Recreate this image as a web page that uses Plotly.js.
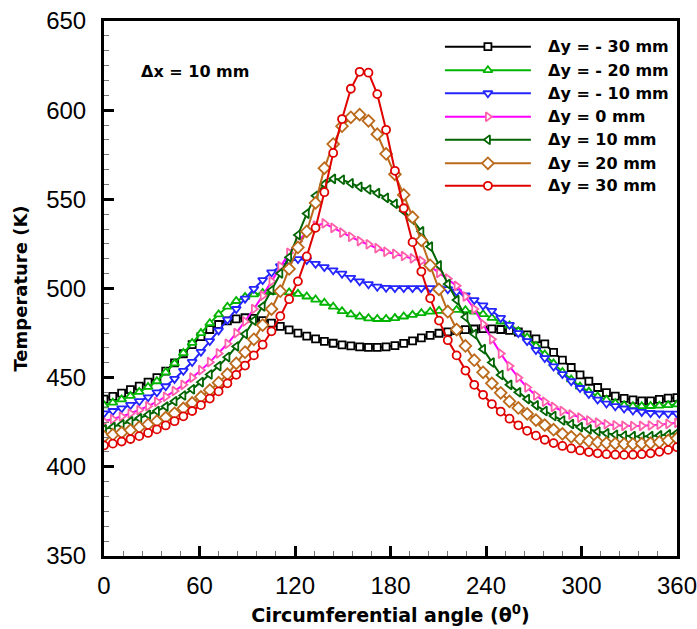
<!DOCTYPE html>
<html>
<head>
<meta charset="utf-8">
<script src="https://cdn.plot.ly/plotly-3.0.1.min.js"></script>
<style>html,body{margin:0;padding:0;background:#fff;}#chart{width:697px;height:629px;}</style>
</head>
<body>
<div id="chart"></div>
<script>
var theta = [0, 5.54, 11.08, 16.62, 22.15, 27.69, 33.23, 38.77, 44.31, 49.85, 55.38, 60.92, 66.46, 72.00, 77.54, 83.08, 88.62, 94.15, 99.69, 105.23, 110.77, 116.31, 121.85, 127.38, 132.92, 138.46, 144.00, 149.54, 155.08, 160.62, 166.15, 171.69, 177.23, 182.77, 188.31, 193.85, 199.38, 204.92, 210.46, 216.00, 221.54, 227.08, 232.62, 238.15, 243.69, 249.23, 254.77, 260.31, 265.85, 271.38, 276.92, 282.46, 288.00, 293.54, 299.08, 304.62, 310.15, 315.69, 321.23, 326.77, 332.31, 337.85, 343.38, 348.92, 354.46, 360];

var seriesNames = ["\u0394y = - 30 mm", "\u0394y = - 20 mm", "\u0394y = - 10 mm", "\u0394y = 0 mm", "\u0394y = 10 mm", "\u0394y = 20 mm", "\u0394y = 30 mm"];

var tM30 = [438, 439.5, 441.3, 443.3, 445.3, 447.5, 450, 453.7, 458.3, 463.4, 468.5, 473, 477, 479.8, 481.8, 483, 483.6, 483.3, 482, 480.6, 478.8, 476.8, 475, 473.3, 471.8, 470.4, 469.3, 468.4, 467.8, 467.3, 467, 467, 467.3, 468, 469.2, 470.6, 472.3, 473.7, 474.9, 475.7, 476.4, 476.9, 477.3, 477.5, 477.4, 477, 476.5, 475.6, 474, 471.7, 469, 464.2, 459.8, 455.7, 451.6, 448, 444.5, 441.6, 439.6, 438.4, 437.6, 437, 437, 437.8, 438.5, 438.8];

var tM20 = [434.5, 436, 437.8, 439.8, 442, 444.8, 448, 453, 458, 463.8, 469.5, 475, 480.5, 485.5, 489.8, 493, 495.3, 496.7, 497.5, 498, 498.2, 497.8, 497, 495.5, 493.8, 492, 489.8, 487.3, 485.5, 484.2, 483.3, 482.9, 482.9, 483.4, 484.3, 485.2, 486.2, 487, 487.5, 487.9, 488, 487.8, 487, 485.6, 483.5, 481.5, 479.2, 476, 472.5, 467.8, 463, 458, 453.2, 449, 445, 442.2, 439.5, 437.6, 435.7, 434.6, 434, 434, 434.1, 434.3, 434.6, 435];

var tM10 = [430, 431.3, 432.8, 434.7, 436.8, 439, 441.8, 445.2, 449.3, 453.8, 458.8, 464.5, 470.5, 476.5, 482.5, 488.5, 494.3, 499.8, 504.7, 509, 512.5, 515.2, 516.5, 516, 513.8, 512, 510.2, 508.3, 506, 504, 502.4, 501, 500.4, 500.2, 500.2, 500.2, 500.2, 500.2, 500.1, 499.6, 498.2, 496.2, 493.5, 490.5, 487.5, 483.5, 479.6, 475, 470.5, 465.5, 461, 456.3, 452, 448, 444.2, 440.8, 437.7, 435.5, 434, 432.7, 431.6, 430.8, 430.2, 429.9, 429.8, 429.8];

var tP0 = [425.5, 426.7, 428.2, 429.9, 431.8, 434, 436.5, 439.3, 442.5, 446, 450, 454.2, 458.7, 463.6, 469, 475, 481.5, 488.5, 496, 504, 512.5, 520, 526.5, 531.5, 535.3, 536.5, 534, 531.3, 529, 526.6, 524.8, 522.6, 520.6, 519.4, 518.2, 516.9, 515.5, 512.5, 508.8, 505.5, 501.5, 495.5, 488.5, 480, 471.5, 463.5, 456.5, 450, 444.5, 440, 436.5, 433.6, 431.3, 429.3, 427.6, 426, 424.8, 423.9, 423.3, 423, 422.9, 423, 423.2, 423.6, 424.1, 424.7];

var tP10 = [421, 422.3, 423.8, 425.5, 427.2, 429.2, 431.3, 433.8, 436.8, 440, 443.5, 447.5, 451.8, 456.5, 461.5, 467.5, 474.5, 482, 490, 499, 508.5, 517.5, 530, 542, 552, 558.5, 561.5, 561, 559, 557, 555.5, 553.5, 550.8, 547.5, 543.5, 538.5, 532, 523.5, 513, 502.5, 493.5, 484, 474.5, 466, 458.5, 451.5, 446, 441.8, 438, 434.5, 431.3, 428.5, 426, 424, 422.3, 421, 419.8, 418.8, 418, 417.5, 417.2, 417, 417.2, 417.6, 418.2, 419];

var tP20 = [417, 418, 419.2, 420.6, 422.2, 423.8, 425.6, 427.6, 430, 432.8, 435.8, 439.2, 443, 447.2, 452, 458, 464.3, 471.5, 479.5, 488.5, 498.5, 511, 523, 532, 548, 567.5, 581, 591, 596, 597.5, 594, 586.5, 575.5, 564, 552.5, 540, 527, 513, 499.5, 487, 477, 467.8, 459.8, 453, 446.8, 441.5, 436.7, 433, 429.7, 426.2, 423.4, 420.8, 418.5, 416.8, 415.5, 414.5, 413.8, 413.3, 413, 412.8, 412.8, 413, 413.3, 413.9, 414.8, 416];

var tP30 = [412, 413, 414.2, 415.6, 417.2, 419, 421, 423.2, 425.6, 428.3, 431.3, 434.6, 438.3, 442.3, 446.8, 451.6, 456.8, 462.5, 468.5, 476, 484.5, 494, 504, 518, 534, 554, 576, 595, 612, 621.5, 621, 609, 589, 566, 545, 526, 509.5, 494.5, 482, 471, 462.5, 454, 446, 440.4, 435.2, 431, 427, 423.3, 420.2, 417.5, 415.2, 413.3, 411.7, 410.3, 409.2, 408.3, 407.6, 407.1, 406.8, 406.7, 406.8, 407.1, 407.6, 408.4, 409.5, 411];

var xTickVals = [0, 60, 120, 180, 240, 300, 360];
var yTickVals = [350, 400, 450, 500, 550, 600, 650];

var allSeries = [tM30, tM20, tM10, tP0, tP10, tP20, tP30];
var lineColors = ["#000000", "#00b400", "#2424ff", "#ff00ff", "#006400", "#bb6a1c", "#e00000"];
var markerColors = ["#000000", "#00b400", "#2424ff", "#ff60a8", "#006400", "#bb6a1c", "#e00000"];
var symbols = ["square", "triangle-up", "triangle-down", "triangle-right", "triangle-left", "diamond", "circle"];
var msize = [7, 8, 8, 8, 8, 9, 8];

var traces = [];
for (var i = 0; i < allSeries.length; i++) {
  traces.push({
    type: "scatter", mode: "lines+markers",
    x: theta, y: allSeries[i], name: seriesNames[i], showlegend: false,
    line: {color: lineColors[i], width: 2},
    marker: {symbol: symbols[i], size: msize[i], color: "#ffffff", line: {color: markerColors[i], width: 1.8}},
    hoverinfo: "skip"
  });
}

// custom legend (overlay axes in plot-area fractions)
var legX = [0.595, 0.670, 0.745];
var legY = [0.952, 0.908, 0.865, 0.821, 0.778, 0.734, 0.692];
var annotations = [];
for (var j = 0; j < allSeries.length; j++) {
  traces.push({
    type: "scatter", mode: "lines+markers", xaxis: "x2", yaxis: "y2",
    x: legX, y: [legY[j], legY[j], legY[j]], showlegend: false, hoverinfo: "skip",
    line: {color: lineColors[j], width: 2},
    marker: {symbol: symbols[j], size: msize[j], color: "#ffffff", opacity: [0, 1, 0], line: {color: markerColors[j], width: 1.8}}
  });
  annotations.push({
    xref: "paper", yref: "paper", x: 0.771, y: legY[j], xanchor: "left", yanchor: "middle",
    text: "<b>" + seriesNames[j] + "</b>", showarrow: false,
    font: {family: "DejaVu Sans", size: 16, color: "#000"}
  });
}
annotations.push({
  xref: "paper", yref: "paper", x: 0.061, y: 0.906, xanchor: "left", yanchor: "middle",
  text: "<b>\u0394x = 10 mm</b>", showarrow: false,
  font: {family: "DejaVu Sans", size: 16, color: "#000"}
});

var layout = {
  width: 697, height: 629,
  margin: {l: 104, r: 20, t: 21, b: 73},
  paper_bgcolor: "#ffffff", plot_bgcolor: "#ffffff",
  showlegend: false,
  font: {family: "Liberation Sans, Arial, sans-serif", color: "#000"},
  xaxis: {
    range: [0, 360], tickvals: xTickVals, ticktext: xTickVals.map(String),
    ticks: "inside", ticklen: 10, tickwidth: 3, tickcolor: "#000",
    showline: true, linewidth: 3, linecolor: "#000", mirror: true,
    showgrid: false, zeroline: false,
    tickfont: {family: "Liberation Sans", size: 24, color: "#000"},
    ticklabelstandoff: 6, ticklabeloverflow: "allow",
    minor: {tick0: 0, dtick: 12, ticks: "inside", ticklen: 5, tickwidth: 1, tickcolor: "#777", showgrid: false},
    title: {text: "<b>Circumferential angle (\u03b8<sup>0</sup>)</b>", font: {family: "DejaVu Sans", size: 19, color: "#000"}, standoff: 11}
  },
  yaxis: {
    range: [350, 650], tickvals: yTickVals, ticktext: yTickVals.map(String),
    ticks: "inside", ticklen: 10, tickwidth: 3, tickcolor: "#000",
    showline: true, linewidth: 3, linecolor: "#000", mirror: true,
    showgrid: false, zeroline: false,
    tickfont: {family: "Liberation Sans", size: 24, color: "#000"},
    ticklabelstandoff: 10, ticklabeloverflow: "allow",
    minor: {tick0: 350, dtick: 50 / 6, ticks: "inside", ticklen: 5, tickwidth: 1, tickcolor: "#777", showgrid: false},
    title: {text: "<b>Temperature (K)</b>", font: {family: "DejaVu Sans", size: 18, color: "#000"}, standoff: 14}
  },
  xaxis2: {overlaying: "x", range: [0, 1], visible: false, fixedrange: true},
  yaxis2: {overlaying: "y", range: [0, 1], visible: false, fixedrange: true},
  annotations: annotations
};

Plotly.newPlot("chart", traces, layout, {staticPlot: true, displayModeBar: false});
</script>
</body>
</html>
